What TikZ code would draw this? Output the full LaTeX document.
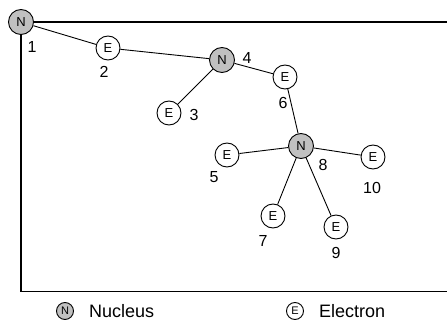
\documentclass[tikz,border=0pt]{standalone}
\usepackage{fontspec}
\setmainfont{Liberation Sans}
\definecolor{nucgray}{HTML}{C0C0C0}
\tikzset{
  nuc/.style={circle,draw=black,line width=0.9pt,fill=nucgray,minimum size=25pt,inner sep=0pt,font=\fontsize{13}{13}\selectfont},
  ele/.style={circle,draw=black,line width=0.9pt,fill=white,minimum size=24pt,inner sep=0pt,font=\fontsize{13}{13}\selectfont},
  lnuc/.style={nuc,minimum size=17pt,font=\fontsize{11}{11}\selectfont},
  lele/.style={ele,minimum size=17pt,font=\fontsize{11}{11}\selectfont},
  num/.style={inner sep=0pt,font=\fontsize{16}{16}\selectfont},
  legtext/.style={inner sep=0pt,anchor=west,font=\fontsize{18}{18}\selectfont},
  link/.style={draw=black,line width=0.9pt},
  frame/.style={draw=black,line width=1.2pt}
}
\begin{document}
\begin{tikzpicture}[x=1pt,y=-1pt]
\useasboundingbox (0,0) rectangle (447,326);
\coordinate (tr) at (448,22);
\coordinate (br) at (448,291.5);
\coordinate (bl) at (21,291.5);
\node[nuc] (n1) at (21,22) {N};
\node[ele] (e2) at (108,48) {E};
\node[nuc] (n4) at (222,60) {N};
\node[ele] (e3) at (169,113) {E};
\node[ele] (e6) at (285,77) {E};
\node[nuc] (n8) at (301,146) {N};
\node[ele] (e5) at (227,155) {E};
\node[ele] (e10) at (373,157) {E};
\node[ele] (e7) at (273,216) {E};
\node[ele] (e9) at (336,227) {E};
\path[frame] (tr) -- (n1.east);
\path[frame] (n1.south) -- (bl) -- (br);
\path[link] (n1) -- (e2);
\path[link] (e2) -- (n4);
\path[link] (n4) -- (e3);
\path[link] (n4) -- (e6);
\path[link] (e6) -- (n8);
\path[link] (n8) -- (e5);
\path[link] (n8) -- (e10);
\path[link] (n8) -- (e7);
\path[link] (n8) -- (e9);
\node[num] (l1) at (32,47) {1};
\node[num] (l2) at (104,72) {2};
\node[num] (l3) at (194,115) {3};
\node[num] (l4) at (247,58) {4};
\node[num] (l6) at (283,103) {6};
\node[num] (l5) at (214,177) {5};
\node[num] (l8) at (323,165) {8};
\node[num] (l10) at (372,188) {10};
\node[num] (l7) at (263,241) {7};
\node[num] (l9) at (336,253) {9};
\node[lnuc] (legn) at (65,311) {N};
\node[legtext] (legnt) at (89,311.5) {Nucleus};
\node[lele] (lege) at (295,311) {E};
\node[legtext] (leget) at (319,311.5) {Electron};
\end{tikzpicture}
\end{document}
